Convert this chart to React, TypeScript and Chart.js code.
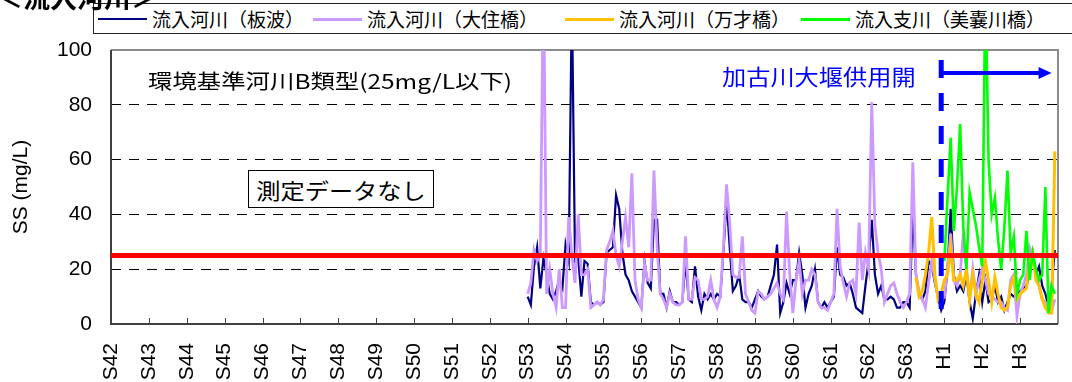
import React, { useEffect, useRef } from 'react';
import { Chart, registerables } from 'chart.js';

Chart.register(...registerables);

// ---------- data ----------
const yearLabels = [
  'S42', 'S43', 'S44', 'S45', 'S46', 'S47', 'S48', 'S49', 'S50', 'S51', 'S52',
  'S53', 'S54', 'S55', 'S56', 'S57', 'S58', 'S59', 'S60', 'S61', 'S62', 'S63',
  'H1', 'H2', 'H3',
];

const seriesNames = ['流入河川（板波）', '流入河川（大住橋）', '流入河川（万才橋）', '流入支川（美嚢川橋）'];
const seriesColors = ['#000080', '#CC99FF', '#FFC000', '#00FF00'];

// monthly values; month 0 = first month of S53
const dataStartYearIndex = 11;

const itanamiStartMonth = 0;
const itanami = [
  10, 7, 21, 28, 13, 24, 18, 11, 9, 12, 16, 13,
  29, 23, 120, 23, 24, 10, 23, 22, 8, 7, 8, 7,
  8, 26, 27, 28, 47, 42, 26, 18, 16, 12, 10, 8,
  6, 23, 15, 13, 38, 38, 11, 11, 6, 12, 8, 8,
  7, 8, 23, 9, 8, 21, 10, 5, 11, 9, 11, 9,
  11, 10, 26, 45, 28, 12, 14, 18, 9, 8, 8, 6,
  9, 12, 10, 9, 10, 14, 18, 29, 4, 8, 15, 11,
  16, 16, 26, 18, 6, 11, 14, 20, 8, 6, 8, 6,
  8, 10, 28, 18, 17, 14, 15, 11, 6, 5, 4, 14,
  23, 38, 18, 11, 14, 9, 9, 10, 9, 6, 6, 8,
  8, 6, 42, 18, 11, 9, 12, 23, 21, 15, 10, 5,
  8, 20, 42, 18, 12, 14, 12, 18, 8, 2, 11, 18,
  8, 16, 8, 9, 14, 8, 10, 5, 8, 11, 10, 11,
  12, 13, 14, 18, 25, 18, 21, 14, 11, 6, 14, 27,
];

const ozumiStartMonth = 0;
const ozumi = [
  11, 15, 27, 23, 25, 130, 11, 20, 11, 6, 20, 6,
  6, 39, 25, 15, 40, 18, 18, 20, 6, 7, 8, 7,
  9, 27, 30, 34, 25, 21, 30, 39, 28, 55, 16, 9,
  6, 22, 16, 16, 56, 28, 11, 9, 6, 11, 8, 7,
  7, 8, 32, 9, 9, 17, 16, 9, 9, 10, 16, 9,
  6, 10, 28, 51, 37, 18, 17, 17, 32, 11, 8, 5,
  4, 12, 11, 9, 10, 11, 13, 15, 11, 9, 41, 18,
  4, 16, 23, 11, 16, 16, 20, 18, 8, 6, 6, 5,
  8, 11, 42, 21, 15, 10, 15, 16, 11, 37, 16, 26,
  20, 81, 36, 26, 20, 8, 11, 14, 15, 11, 8, 6,
  8, 11, 59, 18, 12, 9, 6, 15, 23, 16, 10, 11,
  10, 20, 33, 16, 14, 18, 33, 20, 9, 20, 11, 16,
  20, 16, 11, 10, 9, 8, 8, 6, 5, 16, 18, 3,
  11, 14, 18, 28, 25, 18, 14, 9, 8, 6, 5, 9,
];

const manzaiStartMonth = 123;
const manzai = [
  17, 10, 12, 18, 26, 39, 18, 9, 11,
  16, 18, 28, 16, 16, 18, 14, 20, 9, 18, 11, 8,
  16, 23, 16, 8, 17, 11, 6, 5, 6, 14, 17, 9,
  11, 12, 13, 23, 26, 16, 14, 9, 6, 4, 4, 63,
];

const minoStartMonth = 132;
const mino = [
  23, 46, 68, 34, 50, 73, 35, 20, 48, 42, 36, 28,
  21, 125, 60, 40, 46, 31, 20, 35, 56, 26, 32, 11,
  16, 18, 34, 16, 26, 20, 16, 18, 50, 4, 14, 11,
];

const yMin = 0;
const yMax = 100;
const yStep = 20;
const standardValue = 25; // 環境基準 B類型
const damOpenPosition = 21 + 11 / 12; // 加古川大堰供用開始
const arrowEndPosition = 24.83;

const tickFont = "'Liberation Sans', Arial, sans-serif";
const jpFont = "'Noto Sans CJK JP', 'Noto Sans', sans-serif";

const toPoints = (values: number[], startMonth: number) =>
  values.map((v, i) => ({ x: dataStartYearIndex + (startMonth + i) / 12, y: v }));

const overlayPlugin = {
  id: 'overlay',
  beforeDatasetsDraw(chart: any) {
    const { ctx, chartArea: a, scales } = chart;
    const x = scales.x;
    ctx.save();
    // inward year ticks
    ctx.strokeStyle = '#404040';
    ctx.lineWidth = 1;
    for (let i = 1; i < yearLabels.length; i++) {
      const px = Math.round(x.getPixelForValue(i)) + 0.5;
      ctx.beginPath();
      ctx.moveTo(px, a.bottom);
      ctx.lineTo(px, a.bottom - 6);
      ctx.stroke();
    }
    // frame
    ctx.lineWidth = 2;
    ctx.strokeStyle = '#8c8c8c';
    ctx.beginPath();
    ctx.moveTo(a.left, a.top);
    ctx.lineTo(a.right, a.top);
    ctx.lineTo(a.right, a.bottom);
    ctx.stroke();
    ctx.strokeStyle = '#404040';
    ctx.beginPath();
    ctx.moveTo(a.left, a.top);
    ctx.lineTo(a.left, a.bottom);
    ctx.lineTo(a.right, a.bottom);
    ctx.stroke();
    ctx.restore();
  },
  afterDatasetsDraw(chart: any) {
    const { ctx, chartArea: a, scales } = chart;
    const x = scales.x;
    const y = scales.y;
    ctx.save();
    // standard line
    const ys = y.getPixelForValue(standardValue);
    ctx.strokeStyle = '#FF0000';
    ctx.lineWidth = 5;
    ctx.beginPath();
    ctx.moveTo(a.left, ys);
    ctx.lineTo(a.right, ys);
    ctx.stroke();
    // dam line
    const xd = x.getPixelForValue(damOpenPosition);
    ctx.strokeStyle = '#0000FF';
    ctx.lineWidth = 5;
    ctx.setLineDash([18, 15]);
    ctx.beginPath();
    ctx.moveTo(xd, a.top + 10);
    ctx.lineTo(xd, a.bottom - 4);
    ctx.stroke();
    ctx.setLineDash([]);
    // arrow
    const xe = x.getPixelForValue(arrowEndPosition);
    const ya = a.top + 23;
    ctx.lineWidth = 4;
    ctx.beginPath();
    ctx.moveTo(xd, ya);
    ctx.lineTo(xe - 10, ya);
    ctx.stroke();
    ctx.fillStyle = '#0000FF';
    ctx.beginPath();
    ctx.moveTo(xe, ya);
    ctx.lineTo(xe - 13, ya - 6);
    ctx.lineTo(xe - 13, ya + 6);
    ctx.closePath();
    ctx.fill();
    ctx.restore();
  },
};

export default function App() {
  const canvasRef = useRef<HTMLCanvasElement | null>(null);

  useEffect(() => {
    const canvas = canvasRef.current;
    if (!canvas) return;
    const lineBase = { pointRadius: 0, tension: 0, clip: 0, fill: false };
    const chart = new Chart(canvas, {
      type: 'line',
      data: {
        datasets: [
          { ...lineBase, label: seriesNames[0], data: toPoints(itanami, itanamiStartMonth), borderColor: seriesColors[0], borderWidth: 2.2, order: 4 },
          { ...lineBase, label: seriesNames[1], data: toPoints(ozumi, ozumiStartMonth), borderColor: seriesColors[1], borderWidth: 2.8, order: 3 },
          { ...lineBase, label: seriesNames[2], data: toPoints(manzai, manzaiStartMonth), borderColor: seriesColors[2], borderWidth: 3, order: 2 },
          { ...lineBase, label: seriesNames[3], data: toPoints(mino, minoStartMonth), borderColor: seriesColors[3], borderWidth: 2.6, order: 1 },
        ],
      } as any,
      options: {
        animation: false,
        responsive: false,
        maintainAspectRatio: false,
        layout: { padding: { top: 50, right: 14, left: 0, bottom: 0 } },
        plugins: { legend: { display: false }, tooltip: { enabled: false } },
        scales: {
          x: {
            type: 'linear',
            min: 0,
            max: yearLabels.length,
            grid: { display: false, drawTicks: false },
            border: { display: false },
            afterFit: (s: any) => { s.height = 58; s.paddingLeft = 0; s.paddingRight = 0; },
            ticks: {
              stepSize: 1,
              autoSkip: false,
              minRotation: 90,
              maxRotation: 90,
              padding: 19,
              color: '#000',
              font: { family: tickFont, size: 21 },
              callback: (v: any) => (Number.isInteger(v) && yearLabels[v] ? yearLabels[v] : ''),
            },
          },
          y: {
            min: yMin,
            max: yMax,
            grid: {
              drawTicks: false,
              color: (c: any) => (c.tick && (c.tick.value === yMin || c.tick.value === yMax) ? 'rgba(0,0,0,0)' : '#000'),
              lineWidth: 1,
            },
            border: { display: false, dash: [10, 8] },
            afterFit: (s: any) => { s.width = 111; },
            ticks: {
              stepSize: yStep,
              padding: 19,
              color: '#000',
              font: { family: tickFont, size: 21 },
            },
            title: {
              display: true,
              text: 'SS (mg/L)',
              color: '#000',
              font: { family: tickFont, size: 21 },
              padding: { top: 9, bottom: 0 },
            },
          },
        },
      } as any,
      plugins: [overlayPlugin],
    });
    return () => chart.destroy();
  }, []);

  const legendLefts = [98, 313, 565, 801];
  const legendWidths = [2.5, 3, 3, 3];

  return (
    <div style={{ position: 'absolute', left: 0, top: 0, width: 1072, height: 382, overflow: 'hidden', background: '#fff' }}>
      <canvas ref={canvasRef} width={1072} height={382} style={{ position: 'absolute', left: 0, top: 0 }} />
      {/* legend */}
      <div style={{ position: 'absolute', left: 93, top: 3, width: 1000, height: 29, border: '1.5px solid #222', background: '#fff' }} />
      {seriesNames.map((name, i) => (
        <div key={name} style={{ position: 'absolute', left: legendLefts[i], top: 5, height: 28, display: 'flex', alignItems: 'center', whiteSpace: 'nowrap' }}>
          <div style={{ width: 49, height: legendWidths[i], background: seriesColors[i], marginRight: 5 }} />
          <span style={{ fontFamily: jpFont, fontSize: 19, color: '#000', lineHeight: '28px' }}>{name}</span>
        </div>
      ))}
      {/* clipped title */}
      <div style={{ position: 'absolute', left: -4, top: -17, fontFamily: jpFont, fontSize: 27, fontWeight: 'bold', lineHeight: '27px', color: '#000', whiteSpace: 'nowrap' }}>＜流入河川＞</div>
      {/* annotations */}
      <div style={{ position: 'absolute', left: 148, top: 71, fontFamily: jpFont, fontSize: 20, lineHeight: '20px', color: '#000', whiteSpace: 'nowrap', transform: 'scaleX(1.22)', transformOrigin: 'left center' }}>環境基準河川B類型(25mg/L以下)</div>
      <div style={{ position: 'absolute', left: 248, top: 170, width: 184, height: 36, border: '1.5px solid #000', display: 'flex', alignItems: 'center', justifyContent: 'center', background: '#fff' }}>
        <span style={{ fontFamily: jpFont, fontSize: 22, lineHeight: '22px', color: '#000', whiteSpace: 'nowrap', transform: 'scaleX(1.1)' }}>測定データなし</span>
      </div>
      <div style={{ position: 'absolute', left: 722, top: 64, fontFamily: jpFont, fontSize: 22, lineHeight: '22px', color: '#0000FF', whiteSpace: 'nowrap', transform: 'scaleX(1.1)', transformOrigin: 'left center' }}>加古川大堰供用開</div>
    </div>
  );
}
